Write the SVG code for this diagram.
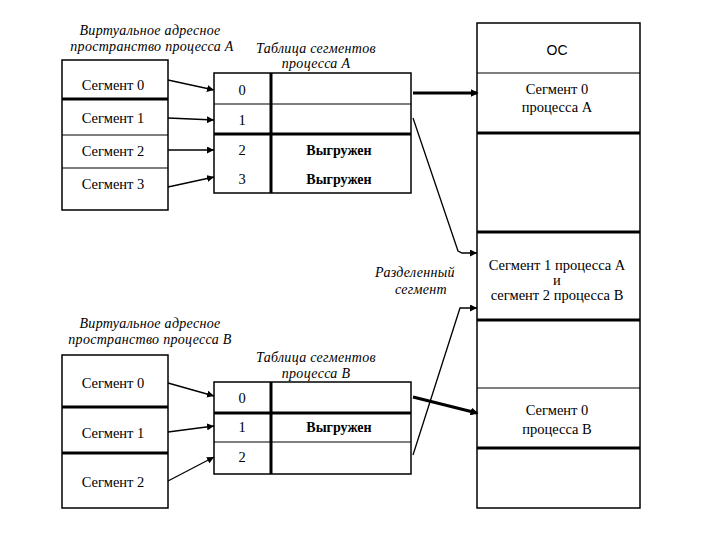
<svg xmlns="http://www.w3.org/2000/svg" width="720" height="540" viewBox="0 0 720 540">
<defs>
<style>
.bx{fill:#fff;stroke:#000;stroke-width:1.5}
.ln{stroke:#000;stroke-width:1.2}
.tk{stroke:#000;stroke-width:3}
.t{font-family:"Liberation Serif",serif;font-size:14.5px;fill:#000;text-anchor:middle}
.it{font-family:"Liberation Serif",serif;font-style:italic;font-size:14px;letter-spacing:0.3px;fill:#000;text-anchor:middle}
.b{font-family:"Liberation Serif",serif;font-weight:bold;font-size:14px;fill:#000;text-anchor:middle}
.s{font-family:"Liberation Sans",sans-serif;font-size:14px;fill:#000;text-anchor:middle}
.c{fill:none;stroke:#000;stroke-width:1.3;marker-end:url(#ah)}
.ct{fill:none;stroke:#000;stroke-width:3;marker-end:url(#ah2)}
</style>
<marker id="ah" viewBox="0 0 10 10" refX="10" refY="5" markerWidth="7" markerHeight="7" markerUnits="userSpaceOnUse" orient="auto"><path d="M0,0 L10,5 L0,10 z" fill="#000"/></marker>
<marker id="ah2" viewBox="0 0 10 10" refX="8" refY="5" markerWidth="8" markerHeight="8" markerUnits="userSpaceOnUse" orient="auto"><path d="M0,0 L10,5 L0,10 z" fill="#000"/></marker>
</defs>
<rect width="720" height="540" fill="#fff"/>

<g id="procA">
<text class="it" x="150" y="35">Виртуальное адресное</text>
<text class="it" x="152" y="51">пространство процесса А</text>
<rect class="bx" x="62" y="60" width="106" height="150"/>
<line class="tk" x1="62" y1="99" x2="168" y2="99"/>
<line class="ln" x1="62" y1="135" x2="168" y2="135"/>
<line class="ln" x1="62" y1="168" x2="168" y2="168"/>
<text class="t" x="113" y="90">Сегмент 0</text>
<text class="t" x="113" y="123">Сегмент 1</text>
<text class="t" x="113" y="156">Сегмент 2</text>
<text class="t" x="113" y="189">Сегмент 3</text>
</g>

<g id="tableA">
<text class="it" x="316" y="53">Таблица сегментов</text>
<text class="it" x="316" y="68">процесса А</text>
<rect class="bx" x="214" y="73" width="197" height="120"/>
<line class="ln" x1="214" y1="104" x2="411" y2="104"/>
<line class="tk" x1="214" y1="134" x2="411" y2="134"/>
<line class="tk" x1="271" y1="73" x2="271" y2="193"/>
<text class="t" x="242" y="95">0</text>
<text class="t" x="242" y="125">1</text>
<text class="t" x="242" y="155">2</text>
<text class="t" x="242" y="184">3</text>
<text class="b" x="339" y="155">Выгружен</text>
<text class="b" x="339" y="184">Выгружен</text>
</g>

<g id="procB">
<text class="it" x="150" y="328">Виртуальное адресное</text>
<text class="it" x="150" y="344">пространство процесса В</text>
<rect class="bx" x="62" y="355" width="106" height="153"/>
<line class="tk" x1="62" y1="407" x2="168" y2="407"/>
<line class="tk" x1="62" y1="453" x2="168" y2="453"/>
<text class="t" x="113" y="388">Сегмент 0</text>
<text class="t" x="113" y="438">Сегмент 1</text>
<text class="t" x="113" y="487">Сегмент 2</text>
</g>

<g id="tableB">
<text class="it" x="316" y="362">Таблица сегментов</text>
<text class="it" x="316" y="378">процесса В</text>
<rect class="bx" x="214" y="382" width="197" height="92"/>
<line class="tk" x1="214" y1="413" x2="411" y2="413"/>
<line class="ln" x1="214" y1="442" x2="411" y2="442"/>
<line class="tk" x1="271" y1="382" x2="271" y2="474"/>
<text class="t" x="242" y="403">0</text>
<text class="t" x="242" y="432">1</text>
<text class="t" x="242" y="462">2</text>
<text class="b" x="339" y="432">Выгружен</text>
</g>

<g id="memory">
<rect class="bx" x="477" y="23" width="163" height="485"/>
<line class="ln" x1="477" y1="73" x2="640" y2="73"/>
<line class="tk" x1="477" y1="133" x2="640" y2="133"/>
<line class="tk" x1="477" y1="232" x2="640" y2="232"/>
<line class="tk" x1="477" y1="320" x2="640" y2="320"/>
<line class="ln" x1="477" y1="388" x2="640" y2="388"/>
<line class="tk" x1="477" y1="448" x2="640" y2="448"/>
<text class="s" x="557" y="55">ОС</text>
<text class="t" x="557" y="94">Сегмент 0</text>
<text class="t" x="557" y="112">процесса А</text>
<text class="t" x="557" y="270">Сегмент 1 процесса А</text>
<text class="t" x="557" y="285">и</text>
<text class="t" x="557" y="300">сегмент 2 процесса В</text>
<text class="t" x="557" y="415">Сегмент 0</text>
<text class="t" x="557" y="434">процесса В</text>
</g>

<g id="shared-label">
<text class="it" x="415" y="277">Разделенный</text>
<text class="it" x="421" y="294">сегмент</text>
</g>

<g id="connectors">
<line class="c" x1="168" y1="80" x2="214" y2="90"/>
<line class="c" x1="168" y1="118" x2="214" y2="120"/>
<line class="c" x1="168" y1="150" x2="214" y2="150"/>
<line class="c" x1="168" y1="187" x2="214" y2="177"/>
<line class="ct" x1="413" y1="93" x2="477" y2="93"/>
<polyline class="c" points="413,118 458,251 462,253 477,253"/>
<line class="c" x1="168" y1="383" x2="214" y2="396"/>
<line class="c" x1="168" y1="432" x2="214" y2="426"/>
<line class="c" x1="168" y1="481" x2="214" y2="457"/>
<line class="ct" x1="413" y1="397" x2="477" y2="413"/>
<polyline class="c" points="413,455 460,308 477,308"/>
</g>
</svg>
